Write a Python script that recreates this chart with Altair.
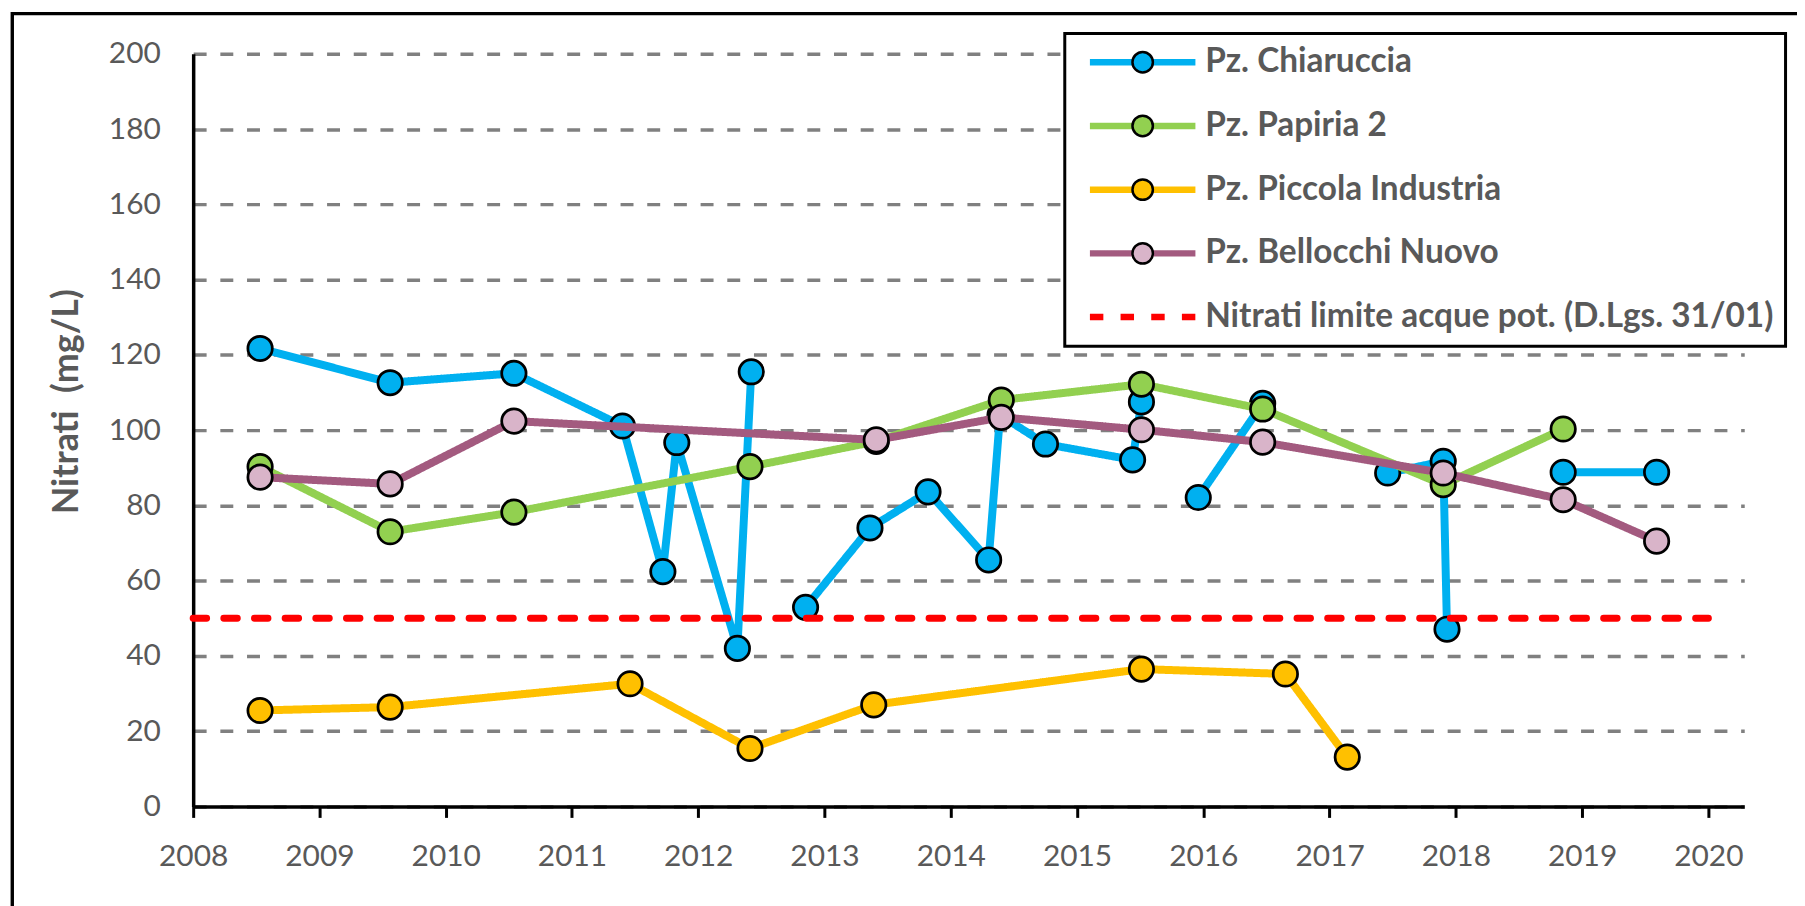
import altair as alt
import pandas as pd

# ---------------- data ----------------
SERIES = [
    "Pz. Chiaruccia",
    "Pz. Papiria 2",
    "Pz. Piccola Industria",
    "Pz. Bellocchi Nuovo",
    "Nitrati limite acque pot. (D.Lgs. 31/01)",
]
LINE_COLORS = ["#00B0F0", "#92D050", "#FFC000", "#A35A7F", "#FF0000"]
MARKER_FILLS = ["#00B0F0", "#92D050", "#FFC000", "#D9B4C9"]

chiar_year = [2008.53, 2009.56, 2010.54, 2011.40, 2011.72, 2011.83, 2012.31, 2012.42,
              2012.85, 2013.36, 2013.82, 2014.30, 2014.39, 2014.75, 2015.44, 2015.51,
              2015.96, 2016.47,
              2017.46, 2017.90, 2017.93,
              2018.85, 2019.59]
chiar_val = [121.7, 112.6, 115.1, 101.1, 62.4, 96.7, 42.0, 115.5,
             52.9, 74.0, 83.6, 65.5, 104.0, 96.3, 92.1, 107.5,
             82.1, 107.1,
             88.6, 91.7, 47.1,
             88.8, 88.8]
chiar_run = [1] * 8 + [2] * 8 + [3] * 2 + [4] * 3 + [5] * 2

pap_year = [2008.53, 2009.56, 2010.54, 2012.41, 2013.41, 2014.40, 2015.51, 2016.47, 2017.90, 2018.85]
pap_val = [90.3, 73.0, 78.2, 90.3, 97.0, 108.0, 112.2, 105.6, 85.5, 100.3]

picc_year = [2008.53, 2009.56, 2011.46, 2012.41, 2013.39, 2015.51, 2016.65, 2017.14]
picc_val = [25.5, 26.4, 32.6, 15.4, 27.0, 36.5, 35.2, 13.1]

bell_year = [2008.53, 2009.56, 2010.54, 2013.41, 2014.40, 2015.51, 2016.47, 2017.90, 2018.85, 2019.59]
bell_val = [87.5, 85.7, 102.4, 97.4, 103.4, 100.1, 96.8, 88.6, 81.5, 70.5]

limit_year = [2008, 2020]
limit_val = [50, 50]

Y_TICKS = list(range(0, 201, 20))
X_TICKS = list(range(2008, 2021))


def frame(years, vals, name, runs=None):
    return pd.DataFrame({
        "year": years,
        "value": vals,
        "series": name,
        "run": runs if runs is not None else [1] * len(years),
    })


series_frames = [
    frame(chiar_year, chiar_val, SERIES[0], chiar_run),
    frame(pap_year, pap_val, SERIES[1]),
    frame(picc_year, picc_val, SERIES[2]),
    frame(bell_year, bell_val, SERIES[3]),
]
limit_df = frame(limit_year, limit_val, SERIES[4])

# ---------------- scales / axes / legends ----------------
FONT = "Lato"
TXT = "#595959"

x_scale = alt.Scale(domain=[2008, 2020.284], nice=False, zero=False)
y_scale = alt.Scale(domain=[0, 200], nice=False, zero=True)
stroke_scale = alt.Scale(domain=SERIES, range=LINE_COLORS)
dash_scale = alt.Scale(domain=SERIES, range=[[1, 0], [1, 0], [1, 0], [1, 0], [13.5, 17.3]])
fill_scale = alt.Scale(domain=SERIES[:4], range=MARKER_FILLS)

x_axis = alt.Axis(
    title=None, values=X_TICKS, format="d", grid=False,
    domainColor="black", domainWidth=3.5,
    tickColor="black", tickWidth=3, tickSize=11,
    labelPadding=24, labelFont=FONT, labelFontSize=30, labelColor=TXT,
    labelFlush=False, labelOverlap=False, zindex=1,
)
y_axis = alt.Axis(
    title="Nitrati \u00a0(mg/L)", titleFont=FONT, titleFontSize=36, titleFontWeight="bold",
    titleColor=TXT, titleAngle=270, titleX=-116, titleY=349,
    titleAlign="center", titleBaseline="alphabetic",
    values=Y_TICKS, format="d",
    grid=True, gridColor="#808080", gridWidth=3.5, gridDash=[13, 13.8],
    domainColor="black", domainWidth=3.5, ticks=False, tickSize=0,
    labelPadding=33, labelFont=FONT, labelFontSize=30, labelColor=TXT,
    labelFlush=False, labelOverlap=False,
)

LEG_Y = 31.7 - 52
LEG_PAD = 12
LEG_ROW = 29

leg_line = alt.Legend(
    title=None, orient="none", legendX=1069.5 - 194, legendY=LEG_Y,
    padding=LEG_PAD, rowPadding=LEG_ROW,
    symbolType="M0,0H8", symbolSize=702, symbolStrokeWidth=6.5,
    symbolOffset=-3.5, labelOffset=99,
    labelFont=FONT, labelFontSize=33.5, labelFontWeight="bold", labelColor=TXT,
    labelLimit=900, fillColor="white", strokeColor="black",
)
leg_mark = alt.Legend(
    title=None, orient="none", legendX=1119 - 194, legendY=LEG_Y,
    padding=LEG_PAD, rowPadding=LEG_ROW,
    symbolType="circle", symbolSize=420, symbolStrokeColor="black",
    symbolStrokeWidth=2.5, symbolOpacity=1, symbolOffset=0,
    labelFont=FONT, labelFontSize=33.5, labelFontWeight="bold",
    labelExpr="''", labelOffset=0, labelLimit=900,
)


def xy():
    return dict(
        x=alt.X("year:Q", scale=x_scale, axis=x_axis),
        y=alt.Y("value:Q", scale=y_scale, axis=y_axis),
    )


# outer frame of the figure
frame_layer = alt.Chart(alt.Data(values=[{}])).mark_rect(
    fill="transparent", stroke="black", strokeWidth=3.4
).encode(
    x=alt.value(-181.7), x2=alt.value(1700),
    y=alt.value(-40.3), y2=alt.value(950),
)

layers = [frame_layer]
for df in series_frames:
    line = alt.Chart(df).mark_line(
        strokeWidth=8, strokeCap="round", strokeJoin="round"
    ).encode(
        **xy(),
        stroke=alt.Stroke("series:N", scale=stroke_scale, legend=leg_line),
        strokeDash=alt.StrokeDash("series:N", scale=dash_scale, legend=leg_line),
        detail="run:N",
    )
    pts = alt.Chart(df).mark_circle(
        size=600, opacity=1, fillOpacity=1, stroke="black", strokeWidth=2.75
    ).encode(
        **xy(),
        fill=alt.Fill("series:N", scale=fill_scale, legend=leg_mark),
    )
    layers += [line, pts]

limit = alt.Chart(limit_df).mark_line(strokeWidth=7, strokeCap="round").encode(
    **xy(),
    stroke=alt.Stroke("series:N", scale=stroke_scale, legend=leg_line),
    strokeDash=alt.StrokeDash("series:N", scale=dash_scale, legend=leg_line),
)
layers.append(limit)

chart = alt.layer(*layers).properties(
    width=1558,
    height=756,
    autosize=alt.AutoSizeParams(type="none"),
    padding={"left": 186, "top": 44, "right": 53, "bottom": 98},
).configure(font=FONT).configure_view(strokeWidth=0).configure_legend(strokeWidth=3)

chart.save("out.html", embed_options={"renderer": "svg", "actions": False})
